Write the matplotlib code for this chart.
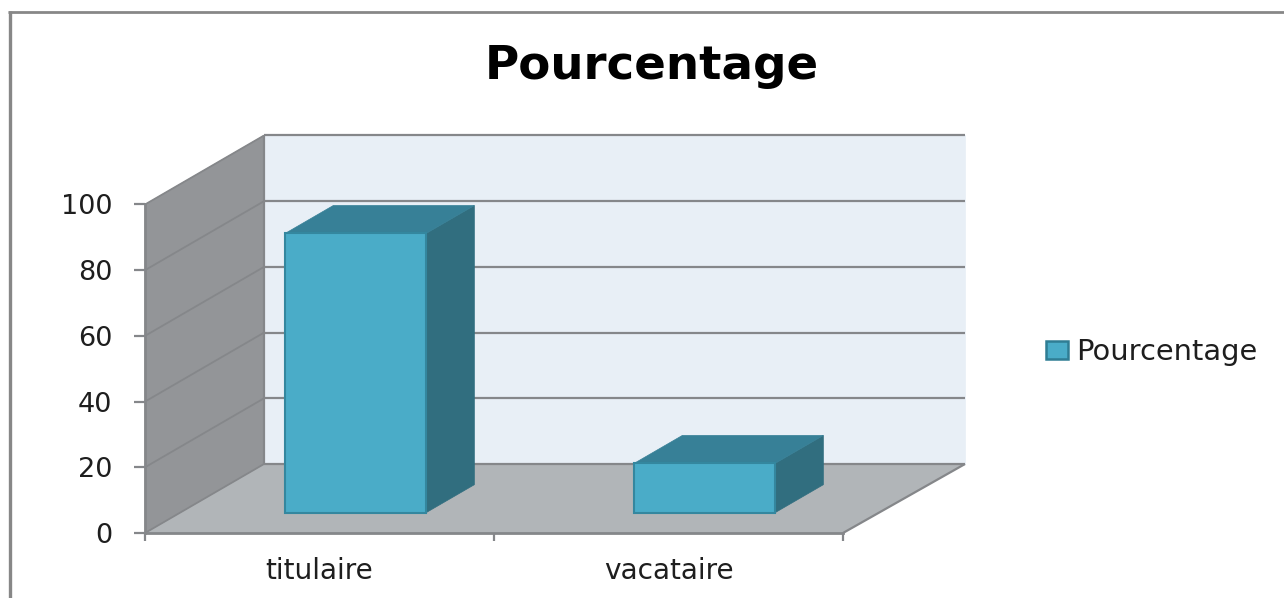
import matplotlib
matplotlib.use('Agg')
import matplotlib.pyplot as plt
from matplotlib.lines import Line2D
from matplotlib.patches import Patch

categories = ['titulaire', 'vacataire']
values = [85, 15]
series_name = 'Pourcentage'
y_ticks = [0, 20, 40, 60, 80, 100]

W, H = 1284, 598
DEPTH_X = 119 / 349   # shift of the back wall, in x units
DEPTH_Y = 69 / 3.285  # shift of the back wall, in y units
BACK_EXTRA = 3 / 349  # the back wall is a little wider than the front axis
BAR_W = 0.404
BAR_SHIFT = 0.003
BAR_D0, BAR_D1 = 0.295, 0.70

GRID = '#85878a'
FRAME = '#878787'
TEXT = '#1e1e1e'


def proj(x, y, d):
    return x + d * DEPTH_X, y + d * DEPTH_Y


def face(ax, corners, color, edge=None, z=1):
    xs, ys = zip(*[proj(*c) for c in corners])
    ax.fill(xs, ys, facecolor=color, edgecolor=edge or color,
            linewidth=1.5 if edge else 0.5, clip_on=False, zorder=z)


def edge_line(ax, a, b, lw=1.6, z=2):
    xa, ya = proj(*a)
    xb, yb = proj(*b)
    ax.plot([xa, xb], [ya, yb], color=GRID, lw=lw, clip_on=False, zorder=z,
            solid_capstyle='butt')


fig = plt.figure(figsize=(W / 100, H / 100), dpi=100, facecolor='white')
ax = fig.add_axes([145 / W, (H - 533) / H, 698 / W, 328.5 / H])
ax.set_xlim(0, len(categories))
ax.set_ylim(0, 100)
ax.patch.set_visible(False)

# walls and floor
xmax = len(categories)
xback = xmax + BACK_EXTRA
face(ax, [(0, 0, 1), (xback, 0, 1), (xback, 100, 1), (0, 100, 1)], '#e8eff6')
face(ax, [(0, 0, 0), (xmax, 0, 0), (xback, 0, 1), (0, 0, 1)], '#b1b5b8')
face(ax, [(0, 0, 0), (0, 0, 1), (0, 100, 1), (0, 100, 0)], '#939598')

# gridlines run along the left wall and the back wall
for t in y_ticks:
    edge_line(ax, (0, t, 0), (0, t, 1), lw=1.3)
    edge_line(ax, (0, t, 1), (xback, t, 1))
edge_line(ax, (0, 0, 1), (0, 100, 1))
edge_line(ax, (xmax, 0, 0), (xback, 0, 1))

# bars
for i, v in enumerate(values):
    x0 = i + 0.5 + BAR_SHIFT - BAR_W / 2
    x1 = i + 0.5 + BAR_SHIFT + BAR_W / 2
    face(ax, [(x1, 0, BAR_D0), (x1, 0, BAR_D1), (x1, v, BAR_D1), (x1, v, BAR_D0)], '#316e7f', z=3)
    face(ax, [(x0, v, BAR_D0), (x1, v, BAR_D0), (x1, v, BAR_D1), (x0, v, BAR_D1)], '#378097', z=3)
    face(ax, [(x0, 0, BAR_D0), (x1, 0, BAR_D0), (x1, v, BAR_D0), (x0, v, BAR_D0)], '#4aacc8', edge='#34879f', z=4)

for side in ['top', 'right']:
    ax.spines[side].set_visible(False)
for side in ['left', 'bottom']:
    ax.spines[side].set_color(GRID)
    ax.spines[side].set_linewidth(2)
    ax.spines[side].set_zorder(5)

ax.set_yticks(y_ticks)
ax.set_xticks(range(xmax + 1))
ax.set_xticklabels([])
ax.set_xticks([i + 0.5 for i in range(xmax)], labels=categories, minor=True)
ax.tick_params(axis='y', which='major', color=GRID, width=1.6, length=8, labelsize=19.5,
               labelcolor=TEXT, pad=15.5)
ax.tick_params(axis='x', which='major', color=GRID, width=1.6, length=6)
ax.tick_params(axis='x', which='minor', length=0, labelsize=20.2, labelcolor=TEXT, pad=17)

fig.text(651.5 / W, 1 - 66.5 / H, series_name, ha='center', va='center',
         fontsize=33.7, fontweight='bold', color='black')

handle = Patch(facecolor='#4aacc8', edgecolor='#2f7d94', linewidth=1.8)
fig.legend([handle], [series_name], loc='center left', bbox_to_anchor=(1046 / W, 1 - 352 / H),
           frameon=False, fontsize=20.8, handlelength=0.75, handleheight=0.56,
           handletextpad=0.31, borderpad=0, borderaxespad=0, labelcolor=TEXT)

# outer frame of the picture
fig.add_artist(Line2D([9.5 / W, 9.5 / W], [0, 1 - 11 / H], color=FRAME, lw=2.4,
                      solid_capstyle='butt', transform=fig.transFigure))
fig.add_artist(Line2D([8 / W, 1], [1 - 12 / H, 1 - 12 / H], color=FRAME, lw=2.0,
                      solid_capstyle='butt', transform=fig.transFigure))

fig.savefig('out.png', dpi=100)
